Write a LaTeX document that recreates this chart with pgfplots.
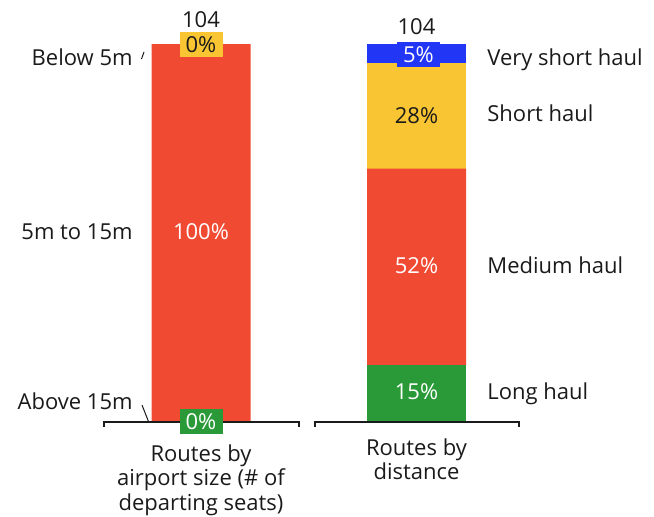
\documentclass[border=0pt]{standalone}
\usepackage{pgfplots}
\pgfplotsset{compat=1.18}
\usepackage{fontspec}
\setmainfont{Open Sans}
\definecolor{cred}{HTML}{F14A33}
\definecolor{cyellow}{HTML}{F9C532}
\definecolor{cblue}{HTML}{2236F6}
\definecolor{cgreen}{HTML}{2A9A38}
\definecolor{ctext}{HTML}{1A1A1A}
\begin{document}
\begin{tikzpicture}[font=\fontsize{11}{12.25}\selectfont]
\begin{axis}[
 scale only axis, width=327pt, height=258pt,
 xmin=-0.93271, xmax=2.10209, ymin=-24.868, ymax=111.640,
 hide axis, clip=false,
 ybar stacked, bar width=49.5pt,
]
\path (rel axis cs:0,0) rectangle (rel axis cs:1,1);
% brackets (beneath bars)
\draw[ctext, line width=1pt] (axis cs:{(104-201)/215.5},{(422-427)/3.78}) -- (axis cs:{(104-201)/215.5},{0}) -- (axis cs:{(299-201)/215.5},{0}) -- (axis cs:{(299-201)/215.5},{(422-427)/3.78});
\draw[ctext, line width=1pt] (axis cs:{(315-201)/215.5},{(422-427)/3.78}) -- (axis cs:{(315-201)/215.5},{0}) -- (axis cs:{(519-201)/215.5},{0}) -- (axis cs:{(519-201)/215.5},{(422-427)/3.78});
% bars (bottom to top)
\addplot[fill=cgreen, draw=none] coordinates {(0,0) (1,15)};
\addplot[fill=cred, draw=none] coordinates {(0,100) (1,52)};
\addplot[fill=cyellow, draw=none] coordinates {(0,0) (1,28)};
\addplot[fill=cblue, draw=none] coordinates {(0,0) (1,5)};
% label anchor coordinates
\coordinate (L1a) at (axis cs:{(141.5-201)/215.5},{(422-59)/3.78});
\coordinate (L1b) at (axis cs:{(144-201)/215.5},{(422-52)/3.78});
\coordinate (L2a) at (axis cs:{(142-201)/215.5},{(422-405)/3.78});
\coordinate (L2b) at (axis cs:{(148.3-201)/215.5},{(422-421)/3.78});
\coordinate (T0) at (axis cs:0,{(422-27)/3.78});
\coordinate (T1) at (axis cs:1,{(422-35)/3.78});
\coordinate (P0top) at (axis cs:0,{(422-44.5)/3.78});
\coordinate (P0bot) at (axis cs:0,{(422-421.5)/3.78});
\coordinate (P0mid) at (axis cs:0,{(422-240)/3.78});
\coordinate (P1a) at (axis cs:{(418.5-201)/215.5},{(422-54.5)/3.78});
\coordinate (P1b) at (axis cs:1,{(422-123)/3.78});
\coordinate (P1c) at (axis cs:1,{(422-273)/3.78});
\coordinate (P1d) at (axis cs:1,{(422-399)/3.78});
\coordinate (CL1) at (axis cs:{(133-201)/215.5},{(422-65)/3.78});
\coordinate (CL2) at (axis cs:{(133-201)/215.5},{(422-239)/3.78});
\coordinate (CL3) at (axis cs:{(133-201)/215.5},{(422-409)/3.78});
\coordinate (CR1) at (axis cs:{(487-201)/215.5},{(422-65)/3.78});
\coordinate (CR2) at (axis cs:{(487-201)/215.5},{(422-122)/3.78});
\coordinate (CR3) at (axis cs:{(487-201)/215.5},{(422-273)/3.78});
\coordinate (CR4) at (axis cs:{(487-201)/215.5},{(422-399)/3.78});
\coordinate (G0) at (axis cs:0,{(422-444)/3.78});
\coordinate (G1) at (axis cs:1,{(422-438)/3.78});
\end{axis}
% leader lines
\draw[ctext, line width=0.5pt] (L1a) -- (L1b);
\draw[ctext, line width=0.5pt] (L2a) -- (L2b);
% totals
\node[text=ctext, inner sep=0, anchor=base] at (T0) {104};
\node[text=ctext, inner sep=0, anchor=base] at (T1) {104};
% percent labels
\node[fill=cyellow, text=ctext, inner sep=0, minimum width=21.5pt, minimum height=12.5pt] at (P0top) {0\%};
\node[fill=cgreen, text=white, inner sep=0, minimum width=21.5pt, minimum height=12.5pt] at (P0bot) {0\%};
\node[text=white, inner sep=0, anchor=base] at (P0mid) {100\%};
\node[fill=cblue, text=white, inner sep=0, minimum width=21.5pt, minimum height=12.5pt] at (P1a) {5\%};
\node[text=ctext, inner sep=0, anchor=base] at (P1b) {28\%};
\node[text=white, inner sep=0, anchor=base] at (P1c) {52\%};
\node[text=white, inner sep=0, anchor=base] at (P1d) {15\%};
% left category labels
\node[text=ctext, inner sep=0, anchor=base east] at (CL1) {Below 5m};
\node[text=ctext, inner sep=0, anchor=base east] at (CL2) {5m to 15m};
\node[text=ctext, inner sep=0, anchor=base east] at (CL3) {Above 15m};
% right category labels
\node[text=ctext, inner sep=0, anchor=base west] at (CR1) {Very short haul};
\node[text=ctext, inner sep=0, anchor=base west] at (CR2) {Short haul};
\node[text=ctext, inner sep=0, anchor=base west] at (CR3) {Medium haul};
\node[text=ctext, inner sep=0, anchor=base west] at (CR4) {Long haul};
% group labels
\node[text=ctext, inner sep=0, anchor=north, align=center] at (G0) {Routes by\\airport size (\# of\\departing seats)};
\node[text=ctext, inner sep=0, anchor=north, align=center] at (G1) {Routes by\\distance};
\end{tikzpicture}
\end{document}
